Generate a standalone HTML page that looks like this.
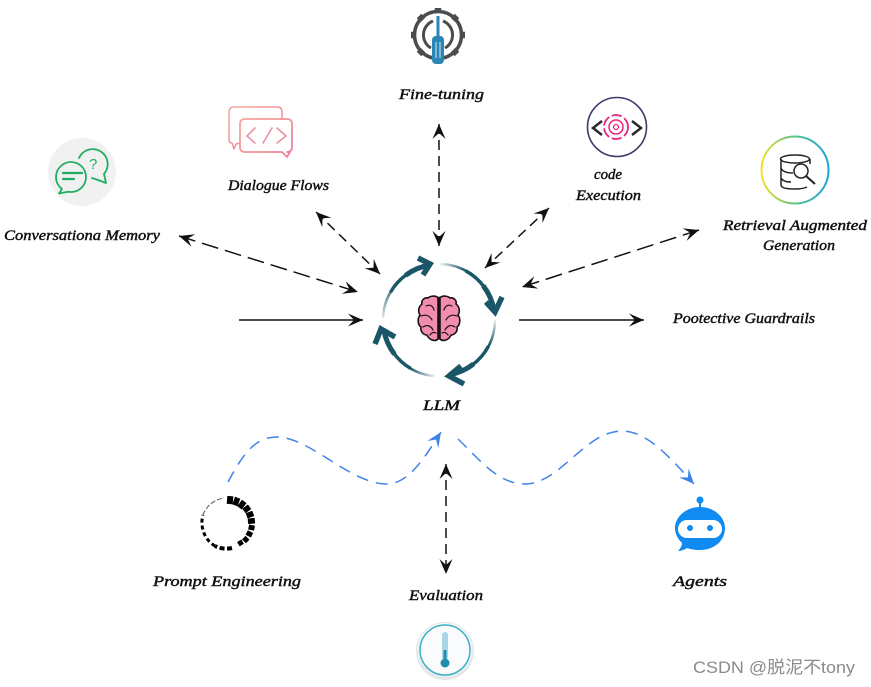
<!DOCTYPE html>
<html><head><meta charset="utf-8"><style>
html,body{margin:0;padding:0;background:#fff;width:871px;height:687px;overflow:hidden}
svg{display:block}
.t{font-family:"Liberation Serif","Noto Sans CJK SC",serif;font-style:italic;font-size:15px;fill:#111;stroke:#111;stroke-width:.45px}
</style></head><body>
<svg width="871" height="687" viewBox="0 0 871 687" xmlns="http://www.w3.org/2000/svg">
<defs>
<marker id="k" markerUnits="userSpaceOnUse" markerWidth="22" markerHeight="18" refX="16" refY="9" orient="auto-start-reverse"><path d="M16,9 L1,2.500 L7,9 L1,15.500 Z" fill="#111"/></marker>
<marker id="b" markerUnits="userSpaceOnUse" markerWidth="22" markerHeight="18" refX="16" refY="9" orient="auto"><path d="M16,9 L1,2.500 L7,9 L1,15.500 Z" fill="#3f83ea"/></marker>
<linearGradient id="a1" gradientUnits="userSpaceOnUse" x1="383" y1="325" x2="405" y2="290"><stop offset="0" stop-color="#1a5568" stop-opacity="0"/><stop offset="1" stop-color="#1a5568"/></linearGradient>
<linearGradient id="a2" gradientUnits="userSpaceOnUse" x1="438" y1="264" x2="465" y2="270"><stop offset="0" stop-color="#1a5568" stop-opacity="0"/><stop offset="1" stop-color="#1a5568"/></linearGradient>
<linearGradient id="a3" gradientUnits="userSpaceOnUse" x1="496" y1="318" x2="491" y2="345"><stop offset="0" stop-color="#1a5568" stop-opacity="0"/><stop offset="1" stop-color="#1a5568"/></linearGradient>
<linearGradient id="a4" gradientUnits="userSpaceOnUse" x1="437" y1="377" x2="410" y2="370"><stop offset="0" stop-color="#1a5568" stop-opacity="0"/><stop offset="1" stop-color="#1a5568"/></linearGradient>
<linearGradient id="rg" x1="0" y1="0" x2="1" y2="0"><stop offset="0" stop-color="#f2e02c"/><stop offset=".5" stop-color="#58c48a"/><stop offset="1" stop-color="#1aa5d8"/></linearGradient>
<linearGradient id="pk" x1="0" y1="0" x2="1" y2="1"><stop offset="0" stop-color="#f3a89a"/><stop offset="1" stop-color="#ee7f9a"/></linearGradient>
<radialGradient id="th" cx=".5" cy=".45" r=".55"><stop offset=".75" stop-color="#fbfcfd"/><stop offset="1" stop-color="#dfe3e7"/></radialGradient>
</defs>

<!-- connectors -->
<g fill="none" stroke="#111" stroke-width="1.500">
<line x1="439" y1="124" x2="439" y2="246" stroke-dasharray="10 6" marker-start="url(#k)" marker-end="url(#k)"/>
<line x1="316" y1="212" x2="380" y2="274" stroke-dasharray="10 6" marker-start="url(#k)" marker-end="url(#k)"/>
<line x1="179" y1="236" x2="358" y2="292" stroke-dasharray="17 7" marker-start="url(#k)" marker-end="url(#k)"/>
<line x1="549" y1="208" x2="485" y2="268" stroke-dasharray="10 6" marker-start="url(#k)" marker-end="url(#k)"/>
<line x1="699" y1="230" x2="522" y2="287" stroke-dasharray="17 7" marker-start="url(#k)" marker-end="url(#k)"/>
<line x1="239" y1="320" x2="363" y2="320" marker-end="url(#k)"/>
<line x1="519" y1="320" x2="644" y2="320" marker-end="url(#k)"/>
<line x1="446" y1="464" x2="446" y2="574" stroke-dasharray="10 6" marker-start="url(#k)" marker-end="url(#k)"/>
</g>
<g fill="none" stroke="#3f83ea" stroke-width="1.500" stroke-dasharray="12 8">
<path d="M228,482 C244,452 256,437 277,437 C310,437 350,484 387,484 C410,484 428,452 441,432" marker-end="url(#b)"/>
<path d="M458,439 C480,460 498,484 525,484 C560,484 585,431 622,431 C648,431 672,460 694,484" marker-end="url(#b)"/>
</g>

<!-- LLM ring -->
<g fill="none">
<g stroke="url(#a1)">
<path d="M383,318 A56,56 0 0 1 430,265" pathLength="100" stroke-width="2.500"/>
<path d="M383,318 A56,56 0 0 1 430,265" pathLength="100" stroke-width="3.500" stroke-dasharray="0 35 65 0"/>
<path d="M383,318 A56,56 0 0 1 430,265" pathLength="100" stroke-width="5" stroke-dasharray="0 65 35 0"/>
</g>
<g stroke="url(#a2)">
<path d="M440,264 A56,56 0 0 1 494,310" pathLength="100" stroke-width="2.500"/>
<path d="M440,264 A56,56 0 0 1 494,310" pathLength="100" stroke-width="3.500" stroke-dasharray="0 35 65 0"/>
<path d="M440,264 A56,56 0 0 1 494,310" pathLength="100" stroke-width="5" stroke-dasharray="0 65 35 0"/>
</g>
<g stroke="url(#a3)">
<path d="M495,320 A56,56 0 0 1 449,375" pathLength="100" stroke-width="2.500"/>
<path d="M495,320 A56,56 0 0 1 449,375" pathLength="100" stroke-width="3.500" stroke-dasharray="0 35 65 0"/>
<path d="M495,320 A56,56 0 0 1 449,375" pathLength="100" stroke-width="5" stroke-dasharray="0 65 35 0"/>
</g>
<g stroke="url(#a4)">
<path d="M435,376 A56,56 0 0 1 384,331" pathLength="100" stroke-width="2.500"/>
<path d="M435,376 A56,56 0 0 1 384,331" pathLength="100" stroke-width="3.500" stroke-dasharray="0 35 65 0"/>
<path d="M435,376 A56,56 0 0 1 384,331" pathLength="100" stroke-width="5" stroke-dasharray="0 65 35 0"/>
</g>
<g stroke="#1a5568" stroke-width="5.500" stroke-linejoin="miter" stroke-miterlimit="3">
<polyline points="418,258 430,264 423,275"/>
<polyline points="486,302 495,312 502,297"/>
<polyline points="461,366 449,376 464,384"/>
<polyline points="375,344 381,329 395,337"/>
</g>
</g>

<!-- brain -->
<g stroke="#1b1118" stroke-width="1.600" stroke-linejoin="round" stroke-linecap="round">
<path d="M438,298 C436,295 430,296 428,298 C424,297 421,301 422,304 C418,307 418,312 420,315 C417,319 418,325 421,327 C420,332 424,335 427,335 C429,340 435,342 438,339 Z" fill="#f28db0"/>
<path d="M440,298 C442,295 448,296 450,298 C454,297 457,301 456,304 C460,307 460,312 458,315 C461,319 460,325 457,327 C458,332 454,335 451,335 C449,340 443,342 440,339 Z" fill="#f28db0"/>
<path d="M439,297V339M426,306C430,304 433,306 434,310M421,316C426,314 430,316 432,320M423,327C427,324 431,326 433,330M430,335C432,332 434,332 436,333M452,306C448,304 445,306 444,310M457,316C452,314 448,316 446,320M455,327C451,324 447,326 445,330M448,335C446,332 444,332 442,333" fill="none" stroke-width="1.200"/>
</g>

<!-- gear / screwdriver -->
<g>
<circle cx="438" cy="35" r="23.500" fill="none" stroke="#4a4d50" stroke-width="3.500"/>
<g stroke="#4a4d50" stroke-width="6.500">
<path d="M438,8V13M438,57V62M411,35H416M460,35H465M419,16L423,20M453,50L457,54M419,54L423,50M453,20L457,16"/>
</g>
<path d="M433,21 A15,15 0 0 0 431,48 M443,21 A15,15 0 0 1 445,48" fill="none" stroke="#4a4d50" stroke-width="3"/>
<rect x="436.500" y="16" width="3" height="20" fill="#2a86b6"/>
<rect x="432" y="36" width="12" height="28" rx="4" fill="#2a86b6"/>
<path d="M436,42V58M440,42V58" stroke="#d6e9f2" stroke-width="1"/>
</g>

<!-- conversation memory -->
<circle cx="82" cy="172" r="34" fill="#f1f1f1"/>
<g fill="none" stroke="#1fae62" stroke-width="1.800" stroke-linecap="round" stroke-linejoin="round">
<path d="M62,189 A15,15 0 1 1 68,191.700 L59,193.500 Z"/>
<path d="M63,173H82M63,179H74" stroke-width="2.200"/>
<path d="M79,158 A15,15 0 1 1 104,174 L106,183 L98,180 L92,178"/>
<text x="89" y="169" font-family="Liberation Sans" font-size="15" fill="#1fae62" stroke="none">?</text>
</g>

<!-- dialogue -->
<g fill="none" stroke="url(#pk)" stroke-width="1.500" stroke-linejoin="round" stroke-linecap="round">
<path d="M240,143 L236,144 L234,149 L232,143 Q229,143 229,140 V112 Q229,107 234,107 H277 Q282,107 282,112 V119"/>
<path d="M245,119 H287 Q292,119 292,124 V147 Q292,152 287,152 H290 L287,157 L282,152 H245 Q240,152 240,147 V124 Q240,119 245,119 Z" stroke-width="1.800"/>
<path d="M255,128 L247,136 L255,143 M272,128 L263,143 M277,128 L286,136 L277,143" stroke="#ee8fa0" stroke-width="1.600"/>
</g>

<!-- code execution -->
<circle cx="617" cy="127" r="29.500" fill="#fff" stroke="#3b3a6b" stroke-width="1.600"/>
<path d="M602,121 L593,128 L602,135 M632,121 L641,128 L632,135" fill="none" stroke="#2a2a2a" stroke-width="2.500"/>
<g fill="none" stroke="#e8237e">
<circle cx="616" cy="127" r="12" stroke-width="1.800" stroke-dasharray="10 3"/>
<circle cx="616" cy="127" r="7" stroke-width="1.500"/>
<circle cx="616" cy="127" r="2.500" stroke-width="1.200"/>
</g>

<!-- RAG -->
<circle cx="795" cy="170" r="33.500" fill="#fff" stroke="url(#rg)" stroke-width="2"/>
<g fill="none" stroke="#222" stroke-width="1.500">
<ellipse cx="795" cy="159" rx="14.500" ry="4"/>
<path d="M781,159V185Q781,189 795,189Q803,189 807,187M810,159V164M781,168Q783,173 793,173M781,178Q783,182 791,182"/>
<circle cx="801" cy="171" r="7"/>
<path d="M806,176L815,184" stroke-width="2"/>
</g>

<!-- prompt engineering -->
<g fill="#000">
<rect x="225" y="496" width="6" height="8" transform="rotate(5 228 523)"/>
<rect x="225.200" y="496" width="5.600" height="8" transform="rotate(21 228 523)"/>
<rect x="225.200" y="496" width="5.600" height="8" transform="rotate(37 228 523)"/>
<rect x="225.200" y="496" width="5.600" height="7" transform="rotate(53 228 523)"/>
<rect x="225.200" y="496" width="5.600" height="7" transform="rotate(69 228 523)"/>
<rect x="225.200" y="496" width="5.600" height="7" transform="rotate(85 228 523)"/>
<rect x="225.500" y="496" width="5" height="6" transform="rotate(101 228 523)"/>
<rect x="225.500" y="496" width="5" height="6" transform="rotate(117 228 523)"/>
<rect x="225.500" y="496" width="5" height="5.500" transform="rotate(133 228 523)"/>
<rect x="225.500" y="497" width="5" height="5" transform="rotate(148 228 523)"/>
</g>
<path d="M215,546 A26,26 0 0 1 203,530 A26,26 0 0 1 203,515" fill="none" stroke="#000" stroke-width="3" stroke-dasharray="4 3"/>
<path d="M232,548 A25.500,25.500 0 0 1 215,546" fill="none" stroke="#000" stroke-width="4" stroke-dasharray="5 2.500"/>
<path d="M203,515 A26,26 0 0 1 224,498" fill="none" stroke="#666" stroke-width="1.200" stroke-dasharray="5 2"/>

<!-- thermometer -->
<circle cx="445" cy="651" r="28.500" fill="url(#th)" stroke="#e4e7ea"/>
<circle cx="445" cy="650" r="25" fill="#fafbfc" stroke="#3ab2c6" stroke-width="1.500"/>
<rect x="442" y="632" width="6" height="28" rx="3" fill="#a9d6e4"/>
<rect x="443.500" y="650" width="3" height="12" fill="#1d8eb0"/>
<circle cx="445" cy="663" r="4.500" fill="#1d8eb0"/>

<!-- agents -->
<g fill="#0f8bf2">
<circle cx="700" cy="500" r="3.500"/>
<rect x="699" y="500" width="2" height="9"/>
<path d="M700,507 C714,507 725,517 725,528 C725,541 714,550 700,550 C694,550 690,549 687,548 C684,550 681,551 678,551 C681,548 682,545 682,543 C678,539 675,534 675,528 C675,517 686,507 700,507 Z"/>
</g>
<rect x="678" y="520" width="44" height="18" rx="9" fill="#fff"/>
<circle cx="690" cy="528" r="3" fill="#0f8bf2"/>
<circle cx="710" cy="528" r="3" fill="#0f8bf2"/>

<!-- labels -->
<text class="t" x="399" y="99" textLength="85" lengthAdjust="spacingAndGlyphs">Fine-tuning</text>
<text class="t" x="228" y="190" textLength="101" lengthAdjust="spacingAndGlyphs">Dialogue Flows</text>
<text class="t" x="4" y="240" textLength="156" lengthAdjust="spacingAndGlyphs">Conversationa Memory</text>
<text class="t" x="594" y="179" textLength="28" lengthAdjust="spacingAndGlyphs">code</text>
<text class="t" x="576" y="200" textLength="65" lengthAdjust="spacingAndGlyphs">Execution</text>
<text class="t" x="723" y="230" textLength="144" lengthAdjust="spacingAndGlyphs">Retrieval Augmented</text>
<text class="t" x="763" y="250" textLength="72" lengthAdjust="spacingAndGlyphs">Generation</text>
<text class="t" x="673" y="323" textLength="142" lengthAdjust="spacingAndGlyphs">Pootective Guardrails</text>
<text class="t" x="423" y="410" textLength="37" lengthAdjust="spacingAndGlyphs">LLM</text>
<text class="t" x="153" y="586" textLength="148" lengthAdjust="spacingAndGlyphs">Prompt Engineering</text>
<text class="t" x="409" y="600" textLength="74" lengthAdjust="spacingAndGlyphs">Evaluation</text>
<text class="t" x="673" y="586" textLength="54" lengthAdjust="spacingAndGlyphs">Agents</text>
<text x="693" y="673" textLength="162" lengthAdjust="spacingAndGlyphs" font-family="'Liberation Sans','Noto Sans CJK SC',sans-serif" font-size="17" fill="#8a8a8a">CSDN @脱泥不tony</text>
</svg>
</body></html>
